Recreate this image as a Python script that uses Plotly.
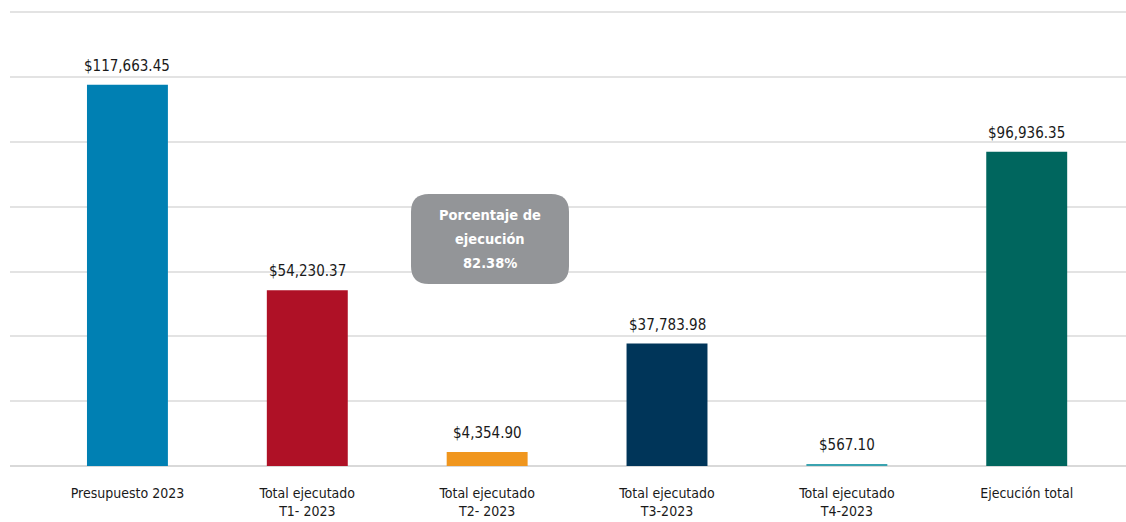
import plotly.graph_objects as go

categories = ["Presupuesto 2023", "Total ejecutado<br>T1- 2023", "Total ejecutado<br>T2- 2023",
              "Total ejecutado<br>T3-2023", "Total ejecutado<br>T4-2023", "Ejecución total"]
values = [117663.45, 54230.37, 4354.90, 37783.98, 567.10, 96936.35]
colors = ["#0080B3", "#AF1126", "#F0961E", "#003559", "#3AA3B0", "#00665E"]
labels = ["$117,663.45", "$54,230.37", "$4,354.90", "$37,783.98", "$567.10", "$96,936.35"]
note_lines = ["Porcentaje de", "ejecución", "82.38%"]

FONT = "DejaVu Sans Condensed, Liberation Sans Narrow, sans-serif"
TXT = "#1a1a1a"

fig = go.Figure(go.Bar(
    x=categories, y=values, marker_color=colors, marker_line_width=0,
    hoverinfo="x+y",
))

for c, v, t in zip(categories, values, labels):
    fig.add_annotation(x=c, y=v, xref="x", yref="y", text=t, showarrow=False,
                       yanchor="bottom", yshift=8,
                       font=dict(family=FONT, size=15, color=TXT))

W, H = 1126, 522
ml, mr, mt, mb = 10, 0, 9, 56
pw, ph = W - ml - mr, H - mt - mb

def px_x(x):
    return (x - ml) / pw

def px_y(y):
    return (H - mb - y) / ph

x0, x1, y0, y1 = px_x(411), px_x(569), px_y(284), px_y(194)
rx, ry = 18 / pw, 18 / ph
path = (f"M {x0+rx},{y1} L {x1-rx},{y1} Q {x1},{y1} {x1},{y1-ry} "
        f"L {x1},{y0+ry} Q {x1},{y0} {x1-rx},{y0} L {x0+rx},{y0} "
        f"Q {x0},{y0} {x0},{y0+ry} L {x0},{y1-ry} Q {x0},{y1} {x0+rx},{y1} Z")
fig.add_shape(type="path", path=path, xref="paper", yref="paper",
              fillcolor="#939598", line_width=0, layer="above")
cy = (y0 + y1) / 2
for i, line in enumerate(note_lines):
    fig.add_annotation(x=(x0 + x1) / 2, y=cy, xref="paper", yref="paper",
                       text=f"<b>{line}</b>", showarrow=False, yshift=(1 - i) * 24,
                       font=dict(family=FONT, size=14.5, color="white"))

fig.update_layout(
    width=W, height=H, margin=dict(l=ml, r=mr, t=mt, b=mb, autoexpand=False),
    plot_bgcolor="white", paper_bgcolor="white",
    bargap=0.55, showlegend=False,
    font=dict(family=FONT, size=14, color=TXT),
    xaxis=dict(range=[-0.653, 5.552], showgrid=False, showline=False, automargin=False,
               ticks="outside", ticklen=14, tickcolor="rgba(0,0,0,0)",
               tickfont=dict(family=FONT, size=14, color=TXT)),
    yaxis=dict(range=[0, 141000], tick0=0, dtick=20000, showticklabels=False, automargin=False,
               gridcolor="#e3e3e3", gridwidth=1.5,
               zeroline=True, zerolinecolor="#d9d9d9", zerolinewidth=1.5),
)

fig.write_html("out.html", config={"displayModeBar": False},
               post_script="document.body.style.margin='0';document.body.style.overflow='hidden';")
